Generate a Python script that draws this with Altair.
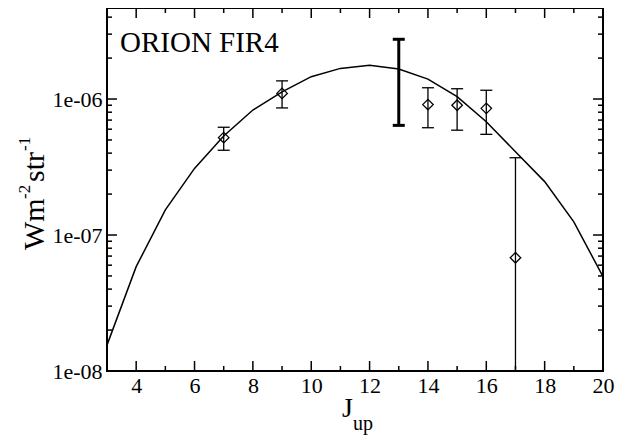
import altair as alt
import pandas as pd

# ---- data ----
curve_J = [3, 4, 5, 6, 7, 8, 9, 10, 11, 12, 13, 14, 15, 16, 17, 18, 19, 20]
curve_I = [1.55e-8, 5.85e-8, 1.53e-7, 3.09e-7, 5.35e-7, 8.3e-7, 1.13e-6, 1.46e-6,
           1.68e-6, 1.77e-6, 1.66e-6, 1.40e-6, 1.04e-6, 6.8e-7, 4.1e-7, 2.47e-7,
           1.25e-7, 4.94e-8]

pt_J = [7, 9, 14, 15, 16, 17]
pt_I = [5.2e-7, 1.10e-6, 9.1e-7, 9.0e-7, 8.54e-7, 6.8e-8]
pt_hi = [6.2e-7, 1.36e-6, 1.21e-6, 1.19e-6, 1.16e-6, 3.7e-7]
pt_lo = [4.2e-7, 8.6e-7, 6.15e-7, 5.9e-7, 5.5e-7, 5e-9]

bold_J = [13]
bold_hi = [2.75e-6]
bold_lo = [6.4e-7]

x_major = [4, 6, 8, 10, 12, 14, 16, 18, 20]
x_minor = [5, 7, 9, 11, 13, 15, 17, 19]
y_major = [1e-8, 1e-7, 1e-6]
y_major_labels = ["1e-08", "1e-07", "1e-06"]
y_minor = [2e-8, 3e-8, 4e-8, 5e-8, 6e-8, 7e-8, 8e-8, 9e-8,
           2e-7, 3e-7, 4e-7, 5e-7, 6e-7, 7e-7, 8e-7, 9e-7,
           2e-6, 3e-6, 4e-6]

X_DOMAIN = [3, 20]
Y_DOMAIN = [1e-8, 4.67e-6]
W, H = 496, 363
FONT = "Liberation Serif"

curve = pd.DataFrame({"J": curve_J, "I": curve_I})
pts = pd.DataFrame({"J": pt_J, "I": pt_I, "hi": pt_hi, "lo": pt_lo})
bold = pd.DataFrame({"J": bold_J, "hi": bold_hi, "lo": bold_lo})

xs = alt.Scale(domain=X_DOMAIN, nice=False, zero=False)
ys = alt.Scale(type="log", domain=Y_DOMAIN, nice=False, zero=False)

label_expr = " : ".join(
    [f"datum.value == {v} ? '{l}'" for v, l in zip(y_major, y_major_labels)]
) + " : ''"

x_axis = alt.Axis(values=x_major, title=None, ticks=False, domain=False,
                  grid=False, labelFont=FONT, labelFontSize=22,
                  labelColor="black", labelPadding=4, labelFlush=False)
y_axis = alt.Axis(values=y_major, title=None, ticks=False, domain=False,
                  grid=False, labelFont=FONT, labelFontSize=22,
                  labelColor="black", labelPadding=5, labelExpr=label_expr)


def X(f):
    return alt.X(f, scale=xs, axis=x_axis, title=None)


def Y(f):
    return alt.Y(f, scale=ys, axis=y_axis, title=None)


line = alt.Chart(curve).mark_line(color="black", strokeWidth=1.5).encode(
    x=X("J:Q"), y=Y("I:Q"))

err = alt.Chart(pts).mark_rule(color="black", strokeWidth=1.3, clip=True).encode(
    x=X("J:Q"), y=Y("lo:Q"), y2="hi:Q")
cap_hi = alt.Chart(pts).mark_rule(color="black", strokeWidth=1.3, clip=True,
                                  xOffset=-6, x2Offset=6).encode(
    x=X("J:Q"), x2="J:Q", y=Y("hi:Q"))
cap_lo = alt.Chart(pts).mark_rule(color="black", strokeWidth=1.3, clip=True,
                                  xOffset=-6, x2Offset=6).encode(
    x=X("J:Q"), x2="J:Q", y=Y("lo:Q"))
diam = alt.Chart(pts).mark_point(shape="diamond", filled=False, color="black",
                                 size=110, strokeWidth=1.3, opacity=1).encode(
    x=X("J:Q"), y=Y("I:Q"))

berr = alt.Chart(bold).mark_rule(color="black", strokeWidth=3).encode(
    x=X("J:Q"), y=Y("lo:Q"), y2="hi:Q")
bcap_hi = alt.Chart(bold).mark_rule(color="black", strokeWidth=3,
                                    xOffset=-6, x2Offset=6).encode(
    x=X("J:Q"), x2="J:Q", y=Y("hi:Q"))
bcap_lo = alt.Chart(bold).mark_rule(color="black", strokeWidth=3,
                                    xOffset=-6, x2Offset=6).encode(
    x=X("J:Q"), x2="J:Q", y=Y("lo:Q"))


def xticks(vals, length):
    d = pd.DataFrame({"J": vals})
    bottom = alt.Chart(d).mark_rule(color="black", strokeWidth=1.5).encode(
        x=X("J:Q"), y=alt.value(H - length), y2=alt.value(H))
    top = alt.Chart(d).mark_rule(color="black", strokeWidth=1.5).encode(
        x=X("J:Q"), y=alt.value(0), y2=alt.value(length))
    return [bottom, top]


def yticks(vals, length):
    d = pd.DataFrame({"I": vals})
    left = alt.Chart(d).mark_rule(color="black", strokeWidth=1.5).encode(
        y=Y("I:Q"), x=alt.value(0), x2=alt.value(length))
    right = alt.Chart(d).mark_rule(color="black", strokeWidth=1.5).encode(
        y=Y("I:Q"), x=alt.value(W - length), x2=alt.value(W))
    return [left, right]


def txt(s, x, y, size, angle=0, align="left"):
    return alt.Chart(alt.Data(values=[{}])).mark_text(
        text=s, font=FONT, fontSize=size, color="black", angle=angle,
        align=align, baseline="alphabetic").encode(
        x=alt.value(x), y=alt.value(y))


# plot origin sits at page (107, 8)
OX, OY = 107, 8
texts = [
    txt("ORION FIR4", 120 - OX, 52 - OY, 29),
    txt("J", 342 - OX, 417 - OY, 28),
    txt("up", 353 - OX, 430 - OY, 20),
    txt("Wm", 44 - OX, 250 - OY, 30, angle=270),
    txt("-2", 30 - OX, 199 - OY, 17, angle=270),
    txt("str", 44 - OX, 182 - OY, 30, angle=270),
    txt("-1", 30 - OX, 151 - OY, 17, angle=270),
]

layers = [line, err, cap_hi, cap_lo, diam, berr, bcap_hi, bcap_lo]
layers += xticks(x_major, 10) + xticks(x_minor, 5)
layers += yticks(y_major, 10) + yticks(y_minor, 5)
layers += texts

chart = alt.layer(*layers).properties(
    width=W, height=H,
    autosize=alt.AutoSizeParams(type="none"),
    padding={"left": OX - 8, "top": OY - 8, "right": 20, "bottom": 64},
    background="white",
).configure_view(stroke="black", strokeWidth=2)

chart.save("out.html", embed_options={"renderer": "svg", "actions": False})
